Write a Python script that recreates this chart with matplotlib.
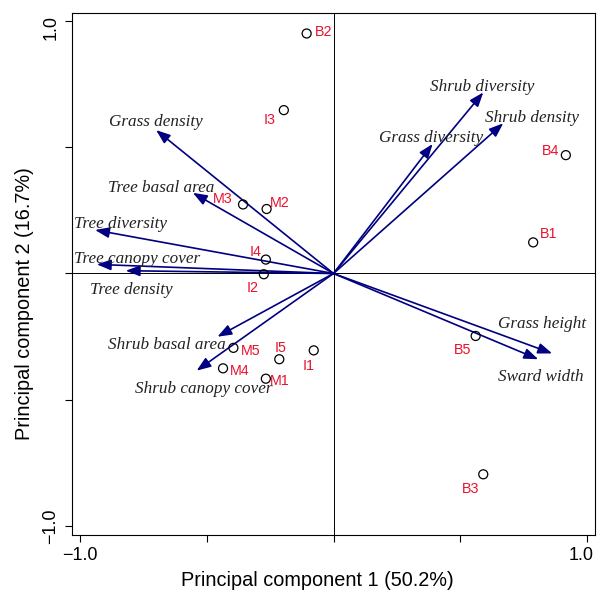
import numpy as np
import matplotlib.pyplot as plt
from matplotlib.transforms import ScaledTranslation

# PCA biplot: sites (points) and habitat variables (arrows)

site_names = ["B1", "B2", "B3", "B4", "B5", "I1", "I2", "I3", "I4", "I5",
              "M1", "M2", "M3", "M4", "M5"]
site_pc1 = [0.788, -0.106, 0.591, 0.917, 0.561, -0.078, -0.275, -0.196, -0.267, -0.214,
            -0.267, -0.264, -0.357, -0.436, -0.395]
site_pc2 = [0.123, 0.949, -0.794, 0.468, -0.247, -0.304, -0.003, 0.646, 0.055, -0.339,
            -0.416, 0.255, 0.273, -0.375, -0.294]

var_names = ["Grass density", "Tree basal area", "Tree diversity", "Tree canopy cover",
             "Tree density", "Shrub basal area", "Shrub canopy cover", "Shrub diversity",
             "Shrub density", "Grass diversity", "Grass height", "Sward width"]
var_pc1 = [-0.700, -0.555, -0.941, -0.934, -0.820, -0.458, -0.540, 0.591, 0.670, 0.391,
           0.863, 0.808]
var_pc2 = [0.567, 0.319, 0.172, 0.036, 0.011, -0.250, -0.384, 0.716, 0.594, 0.512,
           -0.316, -0.339]

# where the variable names sit (data coords)
var_lab_x = [-0.702, -0.680, -0.842, -0.776, -0.796, -0.658, -0.514, 0.587, 0.785, 0.386,
             0.823, 0.817]
var_lab_y = [0.600, 0.339, 0.196, 0.057, -0.065, -0.283, -0.458, 0.736, 0.613, 0.534,
             -0.201, -0.408]

# site label offsets in pixels (dx right, dy down)
site_off = {"B1": (15.7, -8), "B2": (16.7, -1), "B3": (-13, 15), "B4": (-15, -4.3),
            "B5": (-13, 14), "I1": (-4.7, 16), "I2": (-10.7, 14), "I3": (-14.7, 10),
            "I4": (-10, -8), "I5": (1.5, -11), "M1": (14.3, 2.3), "M2": (13.3, -5.7),
            "M3": (-20, -5), "M4": (16.7, 3), "M5": (17, 2.7)}

red = "#e8112d"
navy = "#000080"
px = 0.72  # points per pixel at 100 dpi

fig = plt.figure(figsize=(5.97, 5.91), dpi=100)
ax = fig.add_axes([72/597, 1-535/591, (595-72)/597, (535-13)/591])

ax.axhline(0, color="black", lw=0.7, zorder=1)
ax.axvline(0, color="black", lw=0.7, zorder=1)

for x, y in zip(var_pc1, var_pc2):
    ax.annotate("", xy=(x, y), xytext=(0, 0),
                arrowprops=dict(arrowstyle="-|>,head_length=0.85,head_width=0.32",
                                color=navy, lw=1.2, shrinkA=0, shrinkB=0,
                                mutation_scale=10), zorder=2)

for name, x, y in zip(var_names, var_lab_x, var_lab_y):
    ax.text(x, y, name, fontsize=12.3, style="italic", family="Liberation Serif",
            color="#222222", ha="center", va="center", zorder=3)

ax.scatter(site_pc1, site_pc2, s=42, facecolors="none", edgecolors="black",
           linewidths=0.9, zorder=4)
for name, x, y in zip(site_names, site_pc1, site_pc2):
    dx, dy = site_off[name]
    ax.annotate(name, (x, y), xytext=(dx*px, -dy*px), textcoords="offset points",
                ha="center", va="center", fontsize=10.3, color=red,
                family="Liberation Sans", zorder=5)

ax.set_xlim(-1.032, 1.032)
ax.set_ylim(-1.034, 1.03)
ticks = [-1.0, -0.5, 0.0, 0.5, 1.0]
tick_labels = ["\u22121.0", "", "", "", "1.0"]
ax.set_xticks(ticks)
ax.set_xticklabels(tick_labels, family="Liberation Sans", fontsize=13)
ax.set_yticks(ticks)
ax.set_yticklabels(tick_labels, family="Liberation Sans", fontsize=13,
                   rotation=90, va="center")
ax.tick_params(direction="out", length=5, width=0.8, pad=4)
for s in ax.spines.values():
    s.set_linewidth(0.8)

# nudge the upper tick labels inward like the original
lab = ax.get_xticklabels()[-1]
lab.set_transform(lab.get_transform() + ScaledTranslation(-6/100, 0, fig.dpi_scale_trans))
lab = ax.get_yticklabels()[-1]
lab.set_transform(lab.get_transform() + ScaledTranslation(0, -7/100, fig.dpi_scale_trans))

ax.set_xlabel("Principal component 1 (50.2%)", family="Liberation Sans", fontsize=14.3,
              va="center")
ax.set_ylabel("Principal component 2 (16.7%)", family="Liberation Sans", fontsize=14.3,
              va="center")
ax.xaxis.set_label_coords((317.5-72)/523, (535-580)/522)
ax.yaxis.set_label_coords((25-72)/523, (535-303.5)/522)

fig.savefig("out.png", dpi=100)
